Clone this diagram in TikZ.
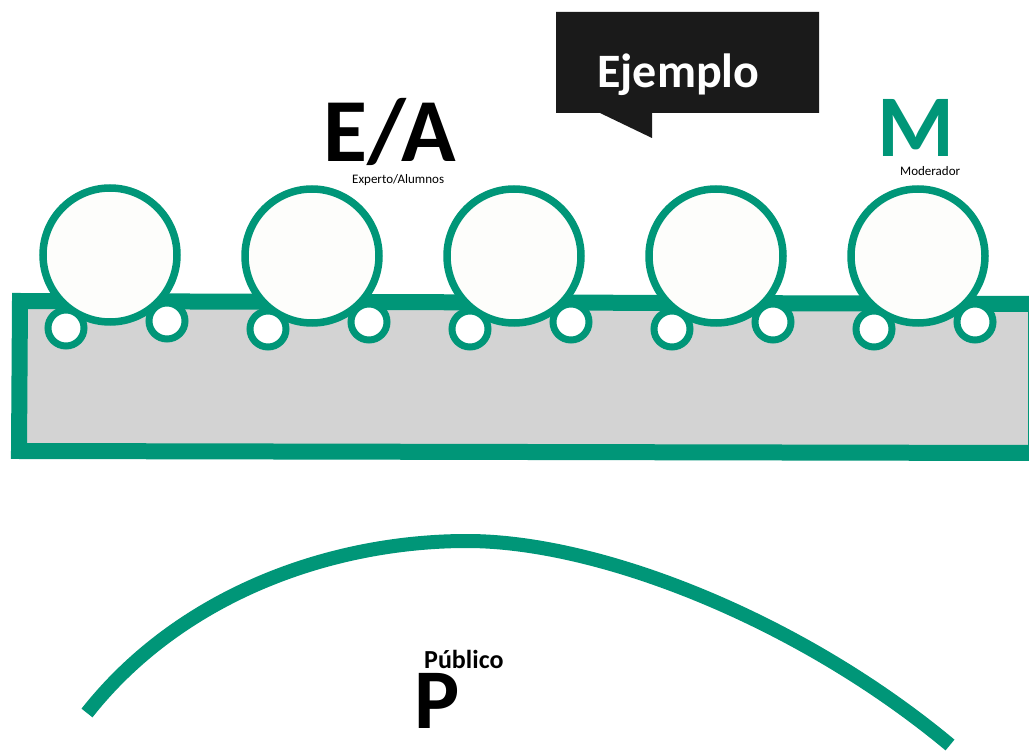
\documentclass[tikz,border=0pt]{standalone}
\usepackage{fontspec}
\setmainfont{Carlito}
\definecolor{tgreen}{RGB}{0,150,120}
\definecolor{tgray}{RGB}{211,211,211}
\definecolor{twhite}{RGB}{253,253,251}
\definecolor{tblack}{RGB}{26,26,26}
\begin{document}
\begin{tikzpicture}[x=1pt,y=-1pt,
  bigseat/.style={circle,draw=tgreen,line width=7.5pt,fill=twhite,minimum size=134pt,inner sep=0pt},
  smallseat/.style={circle,draw=tgreen,line width=7pt,fill=white,minimum size=36pt,inner sep=0pt},
  lbl/.style={anchor=base west,inner sep=0pt}]
\useasboundingbox (0,0) rectangle (1029,751);
\fill[white] (0,0) rectangle (1029,751);
% table
\draw[tgreen,line width=16pt,fill=tgray,line join=miter] (20,301) -- (1036,304) -- (1036,453) -- (19,451) -- cycle;
% seats
\foreach \i/\cx/\cy in {1/110/255,2/312/256,3/514/256,4/716/256,5/918/256}{
  \node[bigseat] (b\i) at (\cx,\cy) {};
}
\foreach \i in {1,...,5}{
  \node[smallseat] (l\i) at ([shift={(-44,73)}]b\i.center) {};
  \node[smallseat] (r\i) at ([shift={(57,66)}]b\i.center) {};
}
% speech bubble
\fill[tblack] (556,12) -- (819,12) -- (819,113) -- (652,113) -- (652,138) -- (600,113) -- (556,113) -- cycle;
\node[lbl,text=white,font=\fontsize{48}{50}\selectfont\bfseries] (ej) at (597,88) {Ejemplo};
% labels
\node[lbl,font=\fontsize{90}{92}\selectfont\bfseries] (ea) at (323,162) {E/A};
\node[lbl,font=\fontsize{13}{14}\selectfont] (eal) at (352,184) {Experto/Alumnos};
\node[lbl,text=tgreen,font=\fontsize{88}{90}\selectfont\bfseries] (m) at (877,157) {M};
\node[lbl,font=\fontsize{13}{14}\selectfont] (ml) at (900,176) {Moderador};
% audience arc
\coordinate (a1) at (87,713);
\coordinate (ap) at (467,541);
\coordinate (a2) at (950,745);
\draw[tgreen,line width=14pt] (a1) .. controls (180,595) and (330,541) .. (ap) .. controls (600,541) and (800,620) .. (a2);
\node[lbl,font=\fontsize{26}{28}\selectfont\bfseries] (pl) at (424,668) {Público};
\node[lbl,font=\fontsize{85}{87}\selectfont\bfseries] (p) at (414,728) {P};
\end{tikzpicture}
\end{document}
